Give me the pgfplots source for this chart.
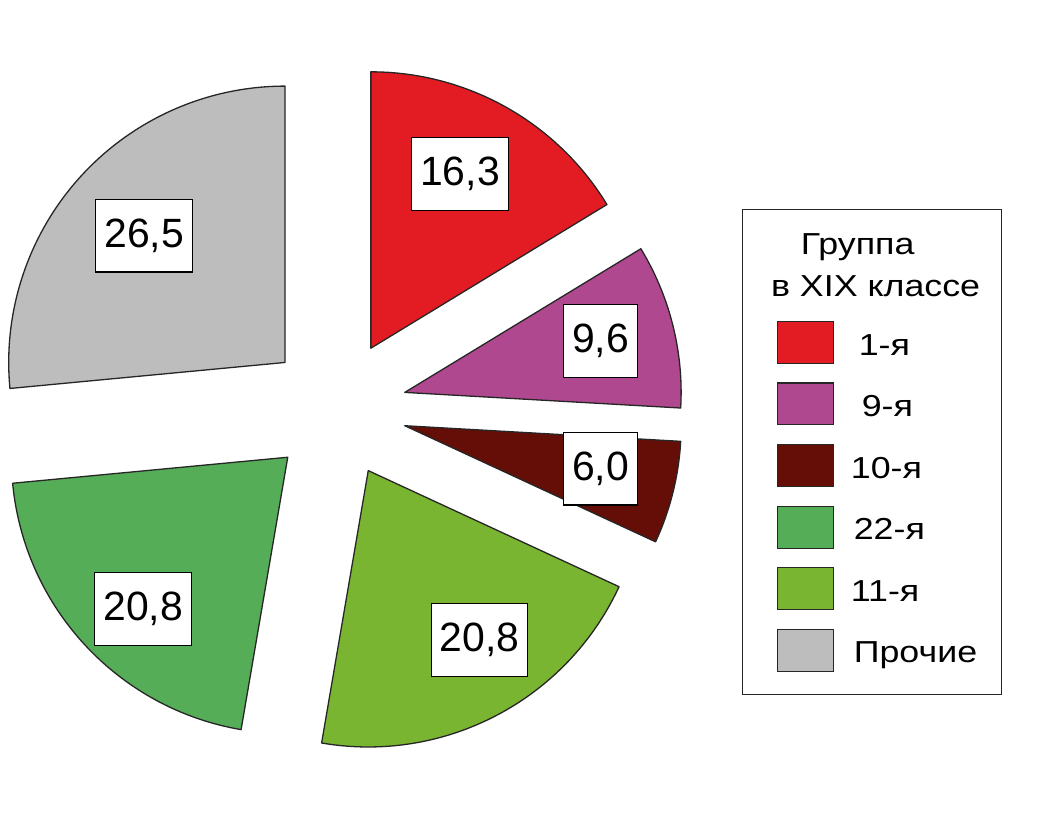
\documentclass[border=0pt]{standalone}
\usepackage{pgfplots}
\pgfplotsset{compat=1.18}
\usepackage{pgfplotstable}
\usepackage{fontspec}
\setmainfont{Liberation Sans}
\newfontfamily\legfont[FakeStretch=1.18]{Liberation Sans}
\definecolor{cRed}{HTML}{E31B23}
\definecolor{cMag}{HTML}{B0488F}
\definecolor{cBrown}{HTML}{650E08}
\definecolor{cLGreen}{HTML}{7AB532}
\definecolor{cGreen}{HTML}{55AE57}
\definecolor{cGray}{HTML}{BDBDBD}
% slices clockwise from 12 o'clock (value in %);
% px,py = tip of the exploded slice (image pixels), labd/labs = label distance / angle shift,
% legx = legend text x, legpos = row in the legend
\pgfplotstableread[col sep=comma]{
label,value,color,px,py,labd,labs,legx,legpos
1-я,16.3,cRed,369.3,349.0,196,2.2,858,0
9-я,9.6,cMag,403.3,393.3,203,0.7,861,1
10-я,6.0,cBrown,403.3,426.7,201,1.7,850,2
11-я,20.8,cLGreen,366.7,471.7,203,5.6,850,4
22-я,20.8,cGreen,286.0,458.3,210,3.5,853,3
Прочие,26.5,cGray,283.3,363.3,190,0.3,853,5
}\piedata
\begin{document}
\begin{tikzpicture}
\fill[white] (0,0) rectangle (518.5pt,413.5pt);
\def\cum{0}
\pgfplotsforeachungrouped \i in {0,...,5}{%
  \pgfplotstablegetelem{\i}{value}\of\piedata \edef\slval{\pgfplotsretval}%
  \pgfplotstablegetelem{\i}{color}\of\piedata \edef\slcol{\pgfplotsretval}%
  \pgfplotstablegetelem{\i}{label}\of\piedata \edef\sllab{\pgfplotsretval}%
  \pgfplotstablegetelem{\i}{px}\of\piedata \edef\slpx{\pgfplotsretval}%
  \pgfplotstablegetelem{\i}{py}\of\piedata \edef\slpy{\pgfplotsretval}%
  \pgfplotstablegetelem{\i}{labd}\of\piedata \edef\sllabd{\pgfplotsretval}%
  \pgfplotstablegetelem{\i}{labs}\of\piedata \edef\sllabs{\pgfplotsretval}%
  \pgfplotstablegetelem{\i}{legx}\of\piedata \edef\sllgx{\pgfplotsretval}%
  \pgfplotstablegetelem{\i}{legpos}\of\piedata \edef\sllgp{\pgfplotsretval}%
  \pgfmathsetmacro\aone{90-3.6*\cum}%
  \pgfmathsetmacro\cum{\cum+\slval}%
  \pgfmathsetmacro\atwo{90-3.6*\cum}%
  \pgfmathsetmacro\slmid{(\aone+\atwo)/2+\sllabs}%
  \pgfmathsetmacro\slax{\slpx}%
  \pgfmathsetmacro\slay{827-\slpy}%
  \pgfmathsetmacro\sldx{277*cos(\aone)}%
  \pgfmathsetmacro\sldy{277*sin(\aone)}%
  \pgfmathsetmacro\sllx{\slax+\sllabd*cos(\slmid)}%
  \pgfmathsetmacro\slly{\slay+\sllabd*sin(\slmid)}%
  \pgfmathsetmacro\sllgy{827-(322+61.8*\sllgp)}%
  \pgfmathsetmacro\sllgb{827-(356+61.6*\sllgp)}%
  \expandafter\xdef\csname sa\i\endcsname{\aone}%
  \expandafter\xdef\csname sb\i\endcsname{\atwo}%
  \expandafter\xdef\csname ax\i\endcsname{\slax}%
  \expandafter\xdef\csname ay\i\endcsname{\slay}%
  \expandafter\xdef\csname dx\i\endcsname{\sldx}%
  \expandafter\xdef\csname dy\i\endcsname{\sldy}%
  \expandafter\xdef\csname lx\i\endcsname{\sllx}%
  \expandafter\xdef\csname ly\i\endcsname{\slly}%
  \expandafter\xdef\csname col\i\endcsname{\slcol}%
  \expandafter\xdef\csname lab\i\endcsname{\sllab}%
  \expandafter\xdef\csname val\i\endcsname{\slval}%
  \expandafter\xdef\csname lgx\i\endcsname{\sllgx}%
  \expandafter\xdef\csname lgy\i\endcsname{\sllgy}%
  \expandafter\xdef\csname lgb\i\endcsname{\sllgb}%
}
\begin{axis}[hide axis, scale only axis, x=0.5pt, y=0.5pt,
  xmin=0, xmax=1037, ymin=0, ymax=827, clip=false]
\pgfplotsinvokeforeach{0,...,5}{%
  \filldraw[fill=\csname col#1\endcsname, draw=black!85, line width=0.65pt, line join=round]
    (axis cs:\csname ax#1\endcsname,\csname ay#1\endcsname)
    -- ++(axis direction cs:\csname dx#1\endcsname,\csname dy#1\endcsname)
    arc[start angle=\csname sa#1\endcsname, end angle=\csname sb#1\endcsname, radius=138.5pt]
    -- cycle;
}
\pgfplotsinvokeforeach{0,...,5}{%
  \node[draw=black, line width=0.6pt, fill=white, minimum height=36.5pt, inner xsep=4.3pt,
        font=\fontsize{20.5pt}{24pt}\selectfont]
    at (axis cs:\csname lx#1\endcsname,\csname ly#1\endcsname)
    {\pgfmathprintnumber[fixed,fixed zerofill,precision=1,use comma,assume math mode=true]{\csname val#1\endcsname}};
}
% legend
\draw[line width=0.6pt, black!85] (axis cs:742,617) rectangle (axis cs:1001,131);
\node[anchor=base west, inner sep=0pt, font=\legfont\fontsize{15.2pt}{18pt}\selectfont] at (axis cs:800,572) {Группа};
\node[anchor=base west, inner sep=0pt, font=\legfont\fontsize{15.2pt}{18pt}\selectfont] at (axis cs:770,530) {в XIX классе};
\pgfplotsinvokeforeach{0,...,5}{%
  \filldraw[fill=\csname col#1\endcsname, draw=black!85, line width=0.6pt]
    (axis cs:777,\csname lgy#1\endcsname) rectangle ++(axis direction cs:56,-42);
  \node[anchor=base west, inner sep=0pt, font=\legfont\fontsize{15.2pt}{18pt}\selectfont]
    at (axis cs:\csname lgx#1\endcsname,\csname lgb#1\endcsname) {\csname lab#1\endcsname};
}
\end{axis}
\end{tikzpicture}
\end{document}
